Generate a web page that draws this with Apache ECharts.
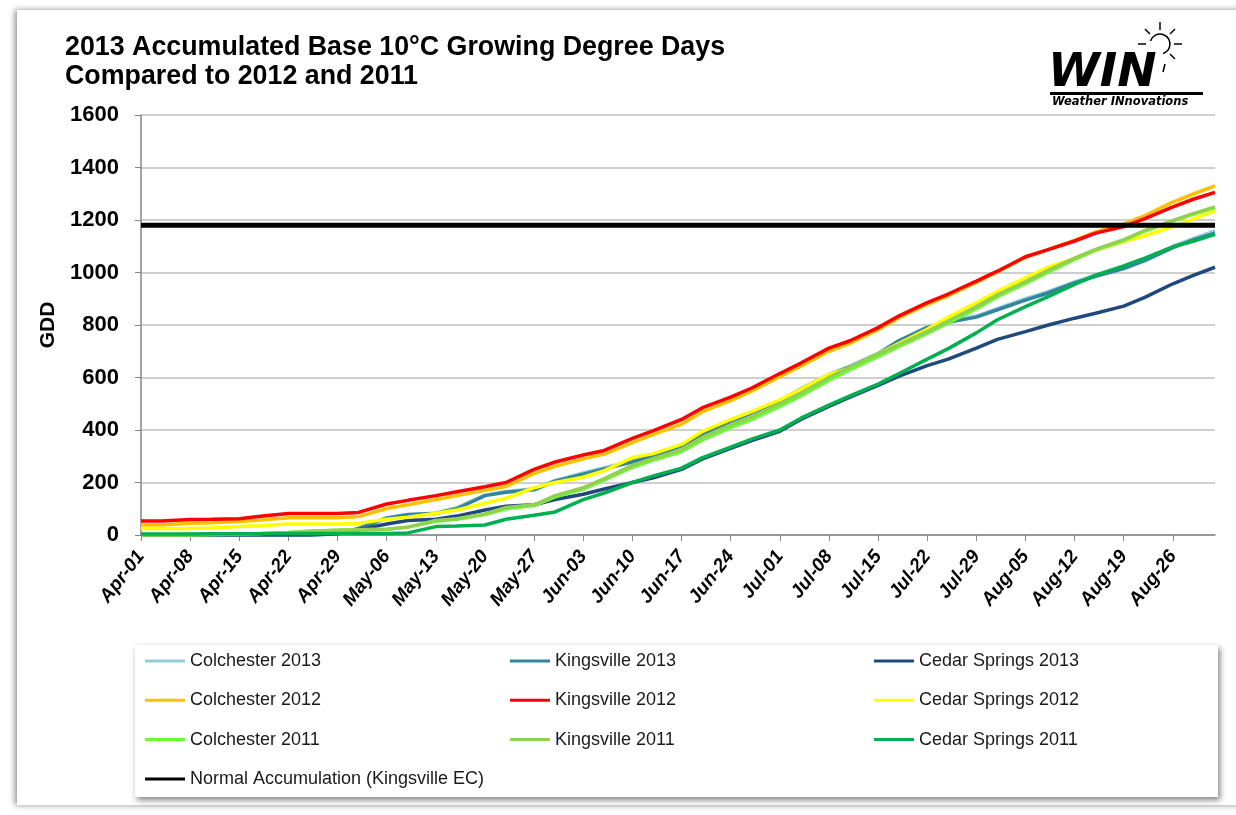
<!DOCTYPE html>
<html>
<head>
<meta charset="utf-8">
<script src="https://cdn.jsdelivr.net/npm/echarts@6/dist/echarts.min.js"></script>
<style>
  html, body { margin: 0; background: #fff; }
  #chart { width: 1236px; height: 815px; }
</style>
</head>
<body>
<div id="chart"></div>
<script>
// day index from Apr-01 (0) to Sep-01 (153)
const days = [0, 3, 7, 10, 14, 17, 21, 24, 28, 31, 35, 38, 42, 45, 49, 52, 56, 59, 63, 66, 70, 73, 77, 80, 84, 87, 91, 94, 98, 101, 105, 108, 112, 115, 119, 122, 126, 129, 133, 136, 140, 143, 147, 150, 153];

const tickLabels = ['Apr-01', 'Apr-08', 'Apr-15', 'Apr-22', 'Apr-29', 'May-06', 'May-13', 'May-20', 'May-27', 'Jun-03', 'Jun-10', 'Jun-17', 'Jun-24', 'Jul-01', 'Jul-08', 'Jul-15', 'Jul-22', 'Jul-29', 'Aug-05', 'Aug-12', 'Aug-19', 'Aug-26'];

const colchester2013 = [0, 0, 0, 0, 0, 0, 0, 0, 4, 22, 62, 76, 84, 104, 152, 166, 176, 208, 236, 256, 282, 304, 344, 388, 433, 468, 512, 557, 612, 643, 692, 742, 793, 814, 834, 862, 900, 925, 964, 990, 1020, 1050, 1100, 1130, 1158];
const kingsville2013 = [0, 0, 0, 0, 0, 0, 0, 0, 5, 25, 65, 78, 82, 100, 150, 163, 172, 205, 232, 252, 278, 300, 340, 385, 430, 465, 510, 555, 610, 640, 690, 740, 790, 810, 830, 858, 895, 920, 960, 985, 1015, 1045, 1095, 1125, 1150];
const cedarSprings2013 = [0, 0, 0, 0, 0, 0, 0, 0, 5, 20, 42, 55, 60, 72, 95, 110, 115, 135, 155, 175, 200, 218, 250, 290, 330, 360, 395, 440, 490, 525, 570, 605, 645, 670, 712, 745, 775, 798, 826, 845, 872, 905, 957, 990, 1020];
const colchester2012 = [38, 38, 45, 47, 51, 57, 66, 66, 66, 70, 101, 115, 135, 150, 170, 185, 235, 262, 290, 308, 352, 383, 422, 470, 512, 548, 603, 643, 700, 730, 782, 828, 878, 912, 962, 1002, 1058, 1085, 1122, 1155, 1185, 1217, 1268, 1300, 1330];
const kingsville2012 = [53, 53, 59, 60, 62, 71, 82, 82, 82, 86, 118, 132, 150, 165, 184, 200, 250, 278, 305, 322, 368, 398, 440, 485, 525, 560, 615, 655, 712, 740, 790, 835, 885, 918, 967, 1005, 1060, 1085, 1120, 1150, 1175, 1205, 1250, 1280, 1305];
const cedarSprings2012 = [25, 25, 25, 27, 32, 35, 42, 42, 42, 45, 60, 68, 83, 95, 121, 140, 180, 200, 220, 245, 295, 310, 345, 395, 440, 470, 515, 555, 612, 636, 690, 730, 784, 830, 885, 928, 980, 1018, 1054, 1085, 1118, 1140, 1175, 1205, 1235];
const colchester2011 = [0, 0, 0, 2, 4, 6, 10, 14, 18, 20, 22, 30, 52, 60, 78, 100, 112, 145, 175, 210, 258, 285, 318, 362, 410, 440, 490, 530, 590, 630, 680, 718, 768, 808, 862, 908, 958, 998, 1050, 1085, 1122, 1158, 1196, 1223, 1247];
const kingsville2011 = [0, 0, 0, 2, 4, 6, 10, 14, 18, 20, 22, 30, 55, 62, 80, 105, 115, 150, 180, 215, 265, 292, 325, 372, 420, 450, 500, 540, 600, 640, 690, 725, 775, 815, 870, 915, 965, 1005, 1055, 1088, 1125, 1160, 1198, 1225, 1250];
const cedarSprings2011 = [4, 4, 4, 5, 5, 5, 6, 6, 6, 6, 6, 8, 32, 34, 38, 60, 75, 88, 135, 160, 200, 225, 255, 295, 335, 365, 400, 445, 495, 530, 575, 615, 670, 710, 770, 820, 870, 905, 955, 990, 1025, 1055, 1098, 1120, 1145];

const normalDays = [0, 153];
const normalGDD = [1180, 1180];

const seriesInfo = [
  { name: 'Colchester 2013', color: '#93CDDD', values: colchester2013 },
  { name: 'Kingsville 2013', color: '#31859C', values: kingsville2013 },
  { name: 'Cedar Springs 2013', color: '#1F497D', values: cedarSprings2013 },
  { name: 'Colchester 2012', color: '#FFC000', values: colchester2012 },
  { name: 'Kingsville 2012', color: '#FF0000', values: kingsville2012 },
  { name: 'Cedar Springs 2012', color: '#FFFF00', values: cedarSprings2012 },
  { name: 'Colchester 2011', color: '#66FF33', values: colchester2011 },
  { name: 'Kingsville 2011', color: '#92D050', values: kingsville2011 },
  { name: 'Cedar Springs 2011', color: '#00B050', values: cedarSprings2011 }
];
const normalName = 'Normal Accumulation (Kingsville EC)';

const series = seriesInfo.map(s => ({
  name: s.name,
  type: 'line',
  symbol: 'none',
  color: s.color,
  lineStyle: { width: 3.5, color: s.color },
  data: days.map((d, i) => [d, s.values[i]])
}));
series.push({
  name: normalName,
  type: 'line',
  symbol: 'none',
  color: '#000',
  lineStyle: { width: 5, color: '#000' },
  data: normalDays.map((d, i) => [d, normalGDD[i]])
});

const legendText = { fontSize: 18, color: '#1a1a1a', fontFamily: 'Liberation Sans' };
function legendCol(names, left) {
  return {
    data: names, orient: 'vertical', left: left, top: 652,
    icon: 'rect', itemWidth: 40, itemHeight: 3, itemGap: 21.3, padding: 0,
    textStyle: legendText, selectedMode: false
  };
}

const chart = echarts.init(document.getElementById('chart'));
chart.setOption({
  animation: false,
  backgroundColor: '#fff',
  grid: { left: 141, right: 21, top: 115, bottom: 280 },
  xAxis: {
    type: 'value', min: 0, max: 153, interval: 7,
    axisLine: { lineStyle: { color: '#868686', width: 1.5 } },
    axisTick: { show: true, length: 6, lineStyle: { color: '#868686' } },
    splitLine: { show: false },
    axisLabel: {
      rotate: 52, margin: 18, fontSize: 19, fontWeight: 'bold', fontStyle: 'italic',
      fontFamily: 'Liberation Sans', color: '#000', showMaxLabel: false,
      formatter: v => (v % 7 === 0 ? tickLabels[v / 7] || '' : '')
    }
  },
  yAxis: {
    type: 'value', min: 0, max: 1600, interval: 200,
    name: 'GDD', nameLocation: 'middle', nameRotate: 90, nameGap: 70,
    nameTextStyle: { fontSize: 21, fontWeight: 'bold', fontFamily: 'Liberation Sans', color: '#000' },
    axisLine: { show: true, lineStyle: { color: '#868686', width: 1.5 } },
    axisTick: { show: true, length: 6, lineStyle: { color: '#868686' } },
    splitLine: { lineStyle: { color: '#bfbfbf', width: 1.5 } },
    axisLabel: {
      fontSize: 22, fontWeight: 'bold', fontFamily: 'Liberation Sans', color: '#000', margin: 22,
      formatter: v => String(v)
    }
  },
  legend: [
    legendCol(['Colchester 2013', 'Colchester 2012', 'Colchester 2011', normalName], 145),
    legendCol(['Kingsville 2013', 'Kingsville 2012', 'Kingsville 2011'], 510),
    legendCol(['Cedar Springs 2013', 'Cedar Springs 2012', 'Cedar Springs 2011'], 874)
  ],
  graphic: [
    { type: 'rect', z: -10, shape: { x: 17, y: 10, width: 1240, height: 795 },
      style: { fill: '#fff', shadowBlur: 6, shadowColor: 'rgba(0,0,0,0.45)', shadowOffsetX: -2 } },
    { type: 'rect', z: -5, shape: { x: 135, y: 645, width: 1083, height: 152 },
      style: { fill: '#fff', shadowBlur: 6, shadowColor: 'rgba(0,0,0,0.5)', shadowOffsetX: 2, shadowOffsetY: 3 } },
    { type: 'text', left: 65, top: 33,
      style: { text: '2013 Accumulated Base 10°C Growing Degree Days\nCompared to 2012 and 2011',
        font: 'bold 26.8px "Liberation Sans"', fill: '#000', lineHeight: 29 } },
    { type: 'text', left: 1048, top: 50,
      style: { text: 'WIN', font: 'oblique bold 47px "DejaVu Sans"', fill: '#000' } },
    { type: 'rect', shape: { x: 1050, y: 92, width: 153, height: 3 }, style: { fill: '#000' } },
    { type: 'text', left: 1052, top: 96,
      style: { text: 'Weather INnovations', font: 'oblique bold 11.5px "DejaVu Sans"', fill: '#000' } },
    { type: 'arc', shape: { cx: 1160, cy: 44, r: 10, startAngle: -Math.PI * 0.9, endAngle: Math.PI * 0.4 },
      style: { stroke: '#000', lineWidth: 1.5, fill: null } },
    { type: 'line', shape: { x1: 1160, y1: 22, x2: 1160, y2: 30 }, style: { stroke: '#000', lineWidth: 1.5 } },
    { type: 'line', shape: { x1: 1175, y1: 29, x2: 1170, y2: 34 }, style: { stroke: '#000', lineWidth: 1.5 } },
    { type: 'line', shape: { x1: 1182, y1: 44, x2: 1174, y2: 44 }, style: { stroke: '#000', lineWidth: 1.5 } },
    { type: 'line', shape: { x1: 1175, y1: 59, x2: 1170, y2: 54 }, style: { stroke: '#000', lineWidth: 1.5 } },
    { type: 'line', shape: { x1: 1145, y1: 29, x2: 1150, y2: 34 }, style: { stroke: '#000', lineWidth: 1.5 } },
    { type: 'line', shape: { x1: 1138, y1: 44, x2: 1146, y2: 44 }, style: { stroke: '#000', lineWidth: 1.5 } },
    { type: 'line', shape: { x1: 1165, y1: 64, x2: 1163, y2: 72 }, style: { stroke: '#000', lineWidth: 1.5 } }
  ],
  series: series
});
</script>
</body>
</html>
